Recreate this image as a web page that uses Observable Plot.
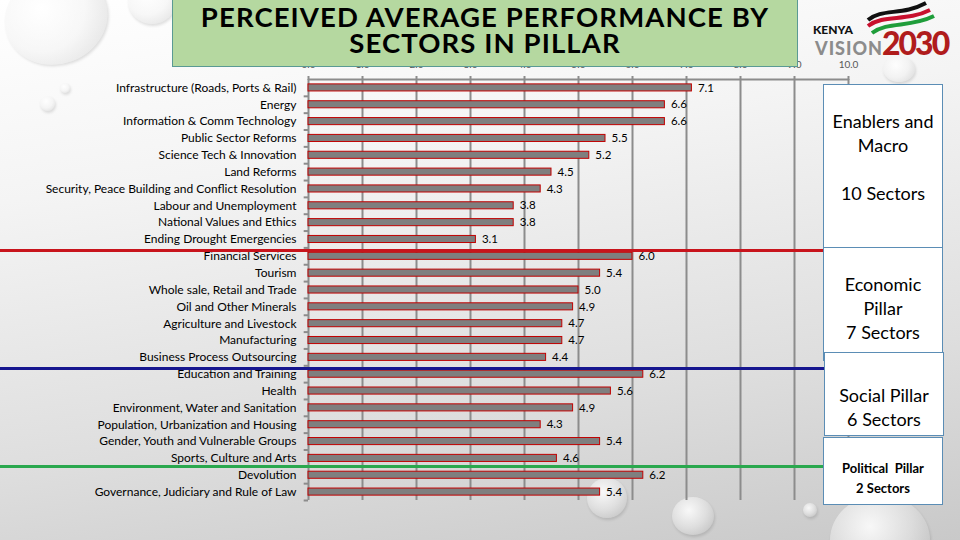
<!DOCTYPE html>
<html>
<head>
<meta charset="utf-8">
<script src="https://cdn.jsdelivr.net/npm/d3@7"></script>
<script src="https://cdn.jsdelivr.net/npm/@observablehq/plot@0.6"></script>
<style>
  html, body { margin: 0; padding: 0; }
  #stage {
    position: relative; width: 960px; height: 540px; overflow: hidden;
    background: linear-gradient(172deg, #ffffff 0%, #f4f4f4 30%, #dedede 70%, #c9c9c9 100%);
    font-family: Lato, "Open Sans", sans-serif;
  }
  #chart { position: absolute; left: 0; top: 0; }
  .divider { position: absolute; left: 0; height: 0; }
  .bubble {
    position: absolute; border-radius: 50%;
    background: radial-gradient(circle at 40% 35%, rgba(255,255,255,0.85) 0%, rgba(240,240,240,0.45) 50%, rgba(170,170,170,0.3) 88%, rgba(140,140,140,0.35) 100%);
    box-shadow: 1px 2px 3px rgba(0,0,0,0.12);
  }
  #titlebox {
    position: absolute; left: 172px; top: -1px; width: 626px; height: 68px;
    background: #b5d8a0; border: 1px solid #5a9a94; box-sizing: border-box;
  }
  .tline {
    position: absolute; left: 172px; width: 626px; text-align: center;
    font-family: Lato, sans-serif; font-weight: bold; font-size: 27.5px; line-height: 1;
    letter-spacing: 1.1px; color: #000; white-space: nowrap;
  }
  .box {
    position: absolute; background: #fff; border: 1px solid #5b8db5; box-sizing: border-box;
    text-align: center; color: #000; font-size: 18px; line-height: 24px;
  }
  .logo { position: absolute; font-family: Lato, sans-serif; font-weight: 900; line-height: 1; white-space: nowrap; }
</style>
</head>
<body>
<div id="stage">
  <div class="bubble" style="left:4px; top:-28px; width:104px; height:92px; transform:rotate(-20deg);"></div>
  <div class="bubble" style="left:128px; top:-22px; width:48px; height:46px;"></div>
  <div class="bubble" style="left:60px; top:83px; width:10px; height:10px;"></div>
  <div class="bubble" style="left:40px; top:96px; width:15px; height:15px;"></div>
  <div class="bubble" style="left:883px; top:56px; width:32px; height:26px;"></div>
  <div class="bubble" style="left:587px; top:478px; width:40px; height:40px;"></div>
  <div class="bubble" style="left:672px; top:497px; width:42px; height:38px;"></div>
  <div class="bubble" style="left:803px; top:503px; width:14px; height:14px;"></div>
  <div class="bubble" style="left:830px; top:495px; width:100px; height:90px;"></div>
  <div id="chart"></div>
  <div id="titlebox"></div>
  <div class="tline" style="top:3.1px;">PERCEIVED AVERAGE PERFORMANCE BY</div>
  <div class="tline" style="top:29.1px;">SECTORS IN PILLAR</div>
  <svg style="position:absolute; left:860px; top:0;" width="84" height="40" viewBox="0 0 84 40">
    <path d="M8 20 C22 8, 42 16, 66 3" stroke="#111" stroke-width="4" fill="none"/>
    <path d="M8 26 C24 14, 46 22, 70 10" stroke="#c8102e" stroke-width="4" fill="none"/>
    <path d="M12 33 C28 21, 50 28, 74 16" stroke="#1f9d3a" stroke-width="4" fill="none"/>
  </svg>
  <div class="logo" style="left:813px; top:23.5px; font-size:12px; color:#111;">KENYA</div>
  <div class="logo" style="left:815px; top:39px; font-size:18px; letter-spacing:1px; color:#8c8c8c;">VISION</div>
  <div class="logo" style="left:882px; top:26.8px; font-size:32px; letter-spacing:-2px; color:#b01c1c;">2030</div>
  <div class="box" style="left:823px; top:84px; width:120px; height:166px; padding-top:24px;">Enablers and<br>Macro<br><br>10 Sectors</div>
  <div class="box" style="left:823px; top:247px; width:120px; height:114px; padding-top:24px;">Economic<br>Pillar<br>7 Sectors</div>
  <div class="box" style="left:824px; top:352px; width:120px; height:84px; padding-top:30px;">Social Pillar<br>6 Sectors</div>
  <div class="box" style="left:823px; top:437px; width:120px; height:68px; padding-top:20px; font-size:13px; line-height:20px; font-weight:bold;">Political &nbsp;Pillar<br>2 Sectors</div>
</div>
<script>
const sectors = [
  "Infrastructure (Roads, Ports & Rail)",
  "Energy",
  "Information & Comm Technology",
  "Public Sector Reforms",
  "Science Tech & Innovation",
  "Land Reforms",
  "Security, Peace Building and Conflict Resolution",
  "Labour and Unemployment",
  "National Values and Ethics",
  "Ending Drought Emergencies",
  "Financial Services",
  "Tourism",
  "Whole sale, Retail and Trade",
  "Oil and Other Minerals",
  "Agriculture and Livestock",
  "Manufacturing",
  "Business Process Outsourcing",
  "Education and Training",
  "Health",
  "Environment, Water and Sanitation",
  "Population, Urbanization and Housing",
  "Gender, Youth and Vulnerable Groups",
  "Sports, Culture and Arts",
  "Devolution",
  "Governance, Judiciary and Rule of Law"
];
const scores = [7.1, 6.6, 6.6, 5.5, 5.2, 4.5, 4.3, 3.8, 3.8, 3.1,
                6.0, 5.4, 5.0, 4.9, 4.7, 4.7, 4.4,
                6.2, 5.6, 4.9, 4.3, 5.4, 4.6,
                6.2, 5.4];
const xTicks = [0, 1, 2, 3, 4, 5, 6, 7, 8, 9, 10];
const gridTicks = [1, 2, 3, 4, 5, 6, 7, 8, 9, 10];
const groupFirst = ["Financial Services", "Education and Training", "Devolution"];
const groupColors = ["#c8141c", "#16168f", "#2aa84e"];
const groupNudge = [3.5, 3, 0.5];

const data = sectors.map((s, i) => ({sector: s, score: scores[i]}));

const W = 960, H = 540, mT = 79, mB = 40, mL = 308, mR = 112;
const step = (H - mT - mB) / sectors.length;

const plot = Plot.plot({
  width: W, height: H,
  marginLeft: mL, marginRight: mR, marginTop: mT, marginBottom: mB,
  style: {background: "transparent", fontFamily: "Lato, sans-serif", fontSize: "12px", color: "#000", overflow: "visible"},
  x: {domain: [0, 10], label: null},
  y: {domain: sectors, paddingInner: 0.58, paddingOuter: 0.29, round: false, label: null},
  marks: [
    Plot.gridX(gridTicks, {stroke: "#8c8c8c", strokeWidth: 2, strokeOpacity: 1}),
    Plot.axisX(xTicks, {anchor: "top", tickFormat: d3.format(".1f"), tickSize: 4, tickPadding: 8, stroke: "#8c8c8c", strokeWidth: 2, fill: "#595959", fontSize: 10, label: null}),
    Plot.axisY({anchor: "left", tickSize: 0, tickPadding: 12, fontSize: 12, fill: "#000", label: null}),
    Plot.ruleY(sectors, {y: d => d, dy: step / 2, x1: -0.08, x2: 0, stroke: "#8c8c8c", strokeWidth: 2}),
    Plot.ruleY([sectors[0]], {y: d => d, dy: -step / 2, x1: 0, x2: 10, stroke: "#8c8c8c", strokeWidth: 2}),
    Plot.ruleX([0], {stroke: "#8c8c8c", strokeWidth: 2}),
    Plot.barX(data, {x: "score", y: "sector", fill: "#7f7f7f", stroke: "#c00000", strokeWidth: 1}),
    Plot.text(data, {x: "score", y: "sector", text: d => d.score.toFixed(1), textAnchor: "start", dx: 6, fontSize: 11.5, fill: "#000"})
  ]
});
document.getElementById("chart").appendChild(plot);

// group dividers placed through the plot's own y scale
const ys = plot.scale("y");
const stage = document.getElementById("stage");
const chartNode = document.getElementById("chart");
groupFirst.forEach((g, i) => {
  const top = ys.apply(g) - (ys.step - ys.bandwidth) / 2 + groupNudge[i];
  const d = document.createElement("div");
  d.className = "divider";
  d.style.top = (top - 1.5) + "px";
  d.style.width = "824px";
  d.style.borderTop = "3px solid " + groupColors[i];
  stage.insertBefore(d, chartNode.nextSibling);
});
</script>
</body>
</html>
